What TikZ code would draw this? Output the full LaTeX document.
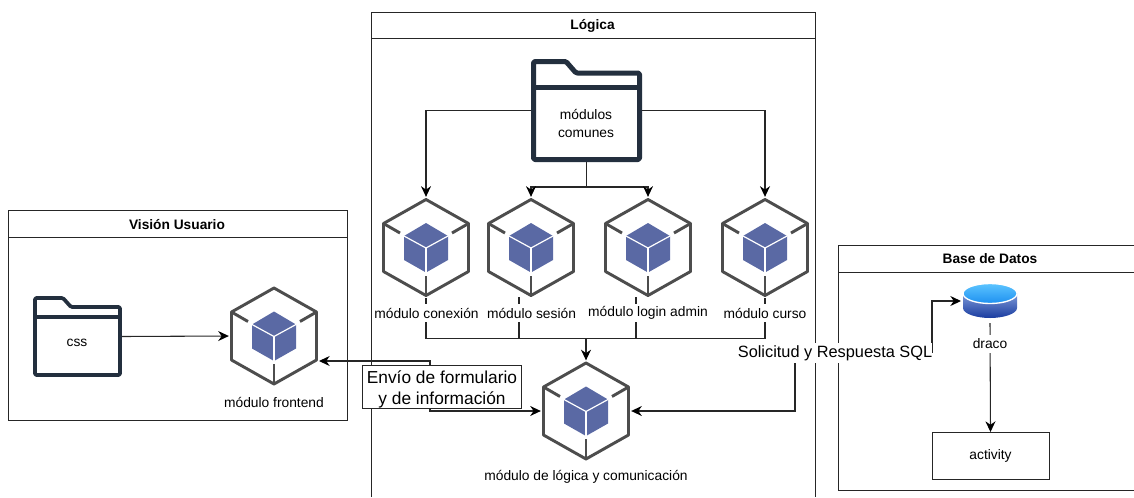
\documentclass[tikz,border=0pt]{standalone}
\usepackage{fontspec}
\setmainfont{Liberation Sans}
\usetikzlibrary{arrows.meta}
\definecolor{carpetaazul}{HTML}{232F3E}
\definecolor{cuboazul}{HTML}{5A69A4}
\definecolor{hexgris}{HTML}{4D4D4D}
\definecolor{lineagris}{HTML}{262626}
\definecolor{cilindroalto}{HTML}{7F9BD8}
\definecolor{cilindrobajo}{HTML}{1A3CA0}
\definecolor{tapaalta}{HTML}{5CC4FF}
\definecolor{tapabaja}{HTML}{1E90F0}
\tikzset{
	panel/.style={draw=lineagris,line width=.75pt},
	titulo/.style={font=\fontsize{10.3}{12}\selectfont\bfseries,inner sep=0pt},
	etiqueta/.style={font=\fontsize{10.35}{12}\selectfont,fill=white,inner sep=.6pt,minimum height=13.5pt},
	grande/.style={font=\fontsize{13}{16}\selectfont,fill=white,inner sep=1.5pt,align=center},
	hexnodo/.style={minimum width=63.75pt,minimum height=72pt,inner sep=0pt,outer sep=2pt},
	carpetanodo/.style={inner sep=0pt,outer sep=0pt},
	carpeta/.style={draw=carpetaazul,line join=round,rounded corners=1pt},
	conector/.style={draw=lineagris,line width=.8pt},
	flecha/.style={conector,-{Stealth[length=8pt,width=7.5pt,color=black]}},
	dobleflecha/.style={conector,{Stealth[length=8pt,width=7.5pt,color=black]}-{Stealth[length=8pt,width=7.5pt,color=black]}}
}
\newcommand{\modulo}[3]{
	\node[hexnodo] (#1) at (#2,#3) {};
	\begin{scope}[shift={(#2,#3)}]
		\draw[hexgris,line width=2.2pt,line join=round] (0,-48) -- (42.5,-24) -- (42.5,24) -- (0,48) -- (-42.5,24) -- (-42.5,-24) -- cycle;
		\draw[hexgris,line width=2.2pt] (-42.5,-24) -- (-26,-14.5);
		\draw[hexgris,line width=2.2pt] (42.5,-24) -- (26,-14.5);
		\draw[hexgris,line width=2.2pt] (0,48) -- (0,28);
		\fill[cuboazul] (0,-24.5) -- (22,-11.5) -- (22,12.5) -- (0,25) -- (-22,12.5) -- (-22,-11.5) -- cycle;
		\draw[white,line width=.9pt] (-22,-11.5) -- (0,0.5) -- (22,-11.5);
		\draw[white,line width=.9pt] (0,0.5) -- (0,25);
	\end{scope}
}
\begin{document}
\begin{tikzpicture}[x=.75pt,y=-.75pt]
	\useasboundingbox (0,0) rectangle (1134,497);

	% paneles
	\draw[panel] (8,210) rectangle (347.5,420);
	\draw[panel] (8,237) -- (347.5,237);
	\node[titulo] (vision) at (177,224.5) {Visión Usuario};
	\draw[panel] (371,497) -- (371,12) -- (815,12) -- (815,497);
	\draw[panel] (371,38) -- (815,38);
	\node[titulo] (logica) at (592.5,26) {Lógica};
	\draw[panel] (1134,245) -- (838,245) -- (838,490) -- (1134,490);
	\draw[panel] (838,272) -- (1134,272);
	\node[titulo] (base) at (990,259) {Base de Datos};

	% carpetas
	\node[carpetanodo,minimum width=83.25pt,minimum height=77.25pt] (comunes) at (586.5,110.5) {};
	\draw[carpeta,line width=3.75pt] (533.5,61.5) -- (566,61.5) -- (576,73) -- (639.5,73) -- (639.5,159.5) -- (533.5,159.5) -- cycle;
	\draw[carpetaazul,line width=3.75pt] (533.5,87) -- (639.5,87);
	\node[carpetanodo,minimum width=66.75pt,minimum height=60.75pt] (css) at (77.5,336.5) {};
	\draw[carpeta,line width=2.8pt] (35,298) -- (63,298) -- (71,307) -- (120,307) -- (120,375) -- (35,375) -- cycle;
	\draw[carpetaazul,line width=2.8pt] (35,317) -- (120,317);

	% modulos
	\foreach \nombre/\px/\py in {conexion/426/247.5,sesion/531/247.5,login/648/247.5,curso/765/247.5,frontend/274/336,comunicacion/586/411}
		\modulo{\nombre}{\px}{\py};

	% base de datos
	\node[carpetanodo,minimum width=40.5pt,minimum height=25.5pt,outer sep=1.5pt] (draco) at (990,301) {};
	\path[top color=cilindroalto,bottom color=cilindrobajo] (963,293) -- (963,308) .. controls (963,314) and (977,318) .. (990,318) .. controls (1003,318) and (1017,314) .. (1017,308) -- (1017,293) -- cycle;
	\path[top color=tapaalta,bottom color=tapabaja,draw=white,line width=1pt] (990,293.5) ellipse [x radius=20.25pt,y radius=7.5pt];
	\node[panel,minimum width=87.75pt,minimum height=35.25pt,inner sep=0pt,outer sep=0pt] (activity) at (990.5,455.5) {};

	% conectores
	\coordinate (barra) at (586,338.5);
	\coordinate (ticksesion) at (519,297);
	\coordinate (ticklogin) at (636,297);
	\coordinate (codoenvio) at (430,361);
	\coordinate (entradafront) at (319,361);
	\coordinate (entradasql) at (795,353);
	\coordinate (codosql) at (932,353);
	\coordinate (dracopie) at (990,323);
	\draw[flecha] (css.east) -- (frontend.west);
	\draw[flecha] (comunes.west) -| (conexion.north);
	\draw[flecha] (comunes.east) -| (curso.north);
	\draw[flecha] (comunes.south) |- (586.5,187) -| (sesion.north);
	\draw[flecha] (comunes.south) |- (586.5,187) -| (login.north);
	\draw[conector] (conexion.south) |- (barra);
	\draw[conector] (curso.south) |- (barra);
	\draw[conector] (ticksesion) -- (ticksesion |- barra);
	\draw[conector] (ticklogin) -- (ticklogin |- barra);
	\draw[flecha] (barra) -- (comunicacion.north);
	\draw[dobleflecha] (entradafront) -- (codoenvio) |- (comunicacion.west);
	\draw[conector,{Stealth[length=8pt,width=7.5pt,color=black]}-] (comunicacion.east) -| (entradasql) -- (codosql);
	\draw[flecha] (codosql) |- (draco.west);
	\draw[flecha] (dracopie) -- (activity.north);

	% etiquetas
	\node[inner sep=0pt,font=\fontsize{10.35}{13.5}\selectfont,align=center] (comunestxt) at (586,123) {módulos\\comunes};
	\node[inner sep=0pt,font=\fontsize{10.35}{12}\selectfont] (csstxt) at (77,343) {css};
	\node[etiqueta] (conexiontxt) at (426.5,313) {módulo conexión};
	\node[etiqueta] (sesiontxt) at (531.5,313) {módulo sesión};
	\node[etiqueta] (logintxt) at (648,313) {módulo login admin};
	\node[etiqueta] (cursotxt) at (765,313) {módulo curso};
	\node[etiqueta] (frontendtxt) at (274,402) {módulo frontend};
	\node[etiqueta] (comunicaciontxt) at (586,477) {módulo de lógica y comunicación};
	\node[etiqueta] (dracotxt) at (990,343.5) {draco};
	\node[inner sep=0pt,font=\fontsize{10.35}{12}\selectfont] (activitytxt) at (990.5,455.5) {activity};
	\node[grande,draw=lineagris,line width=.75pt,minimum width=119pt,minimum height=32pt,inner sep=0pt] (envio) at (442,387) {\strut\raisebox{-1.5pt}{Envío de formulario}\\\raisebox{-1.5pt}{y de información}};
	\node[grande,font=\fontsize{12.25}{16}\selectfont,inner sep=0pt,minimum height=15.5pt] (sql) at (835,353) {Solicitud y Respuesta SQL};
\end{tikzpicture}
\end{document}
